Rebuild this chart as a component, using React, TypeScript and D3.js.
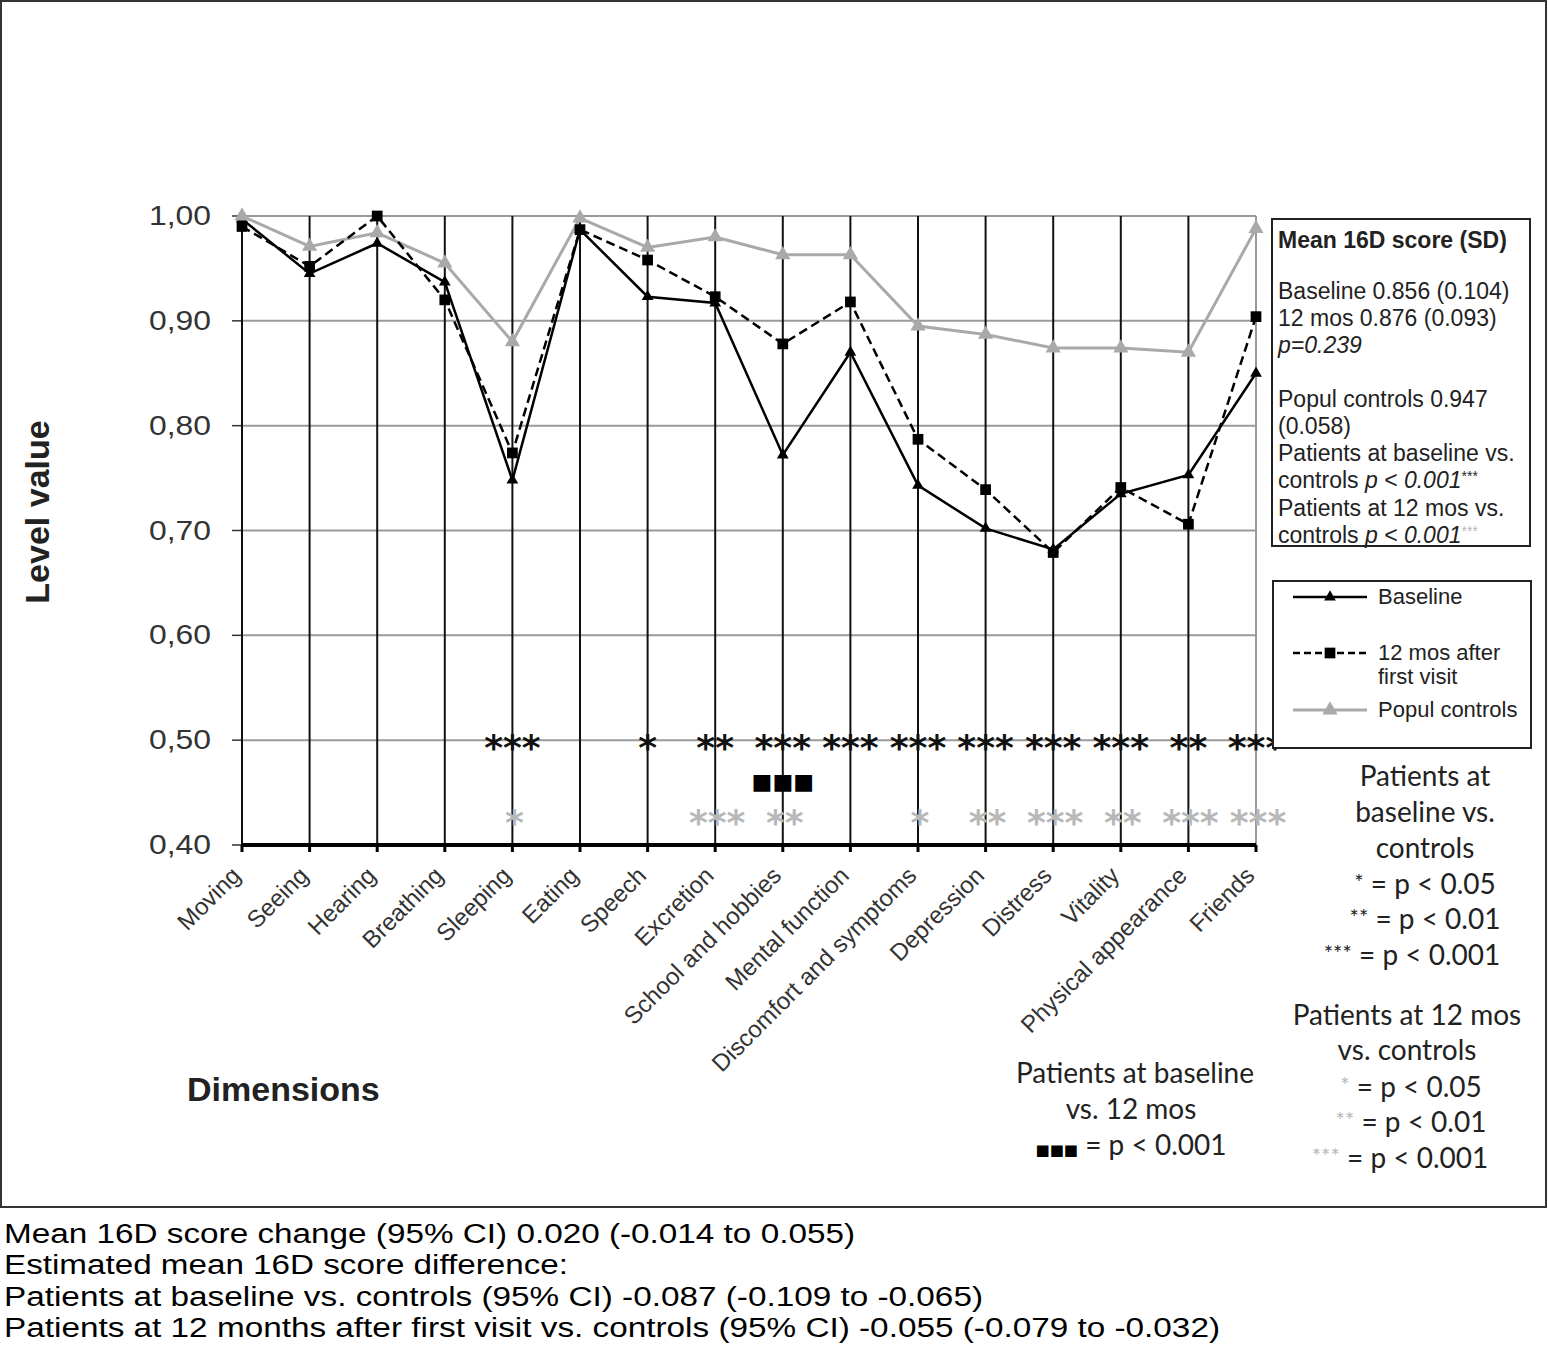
import React from "react";
import * as d3 from "d3";

const categories = [
  "Moving", "Seeing", "Hearing", "Breathing", "Sleeping", "Eating", "Speech", "Excretion",
  "School and hobbies", "Mental function", "Discomfort and symptoms", "Depression",
  "Distress", "Vitality", "Physical appearance", "Friends",
];
const baselineValues = [0.997, 0.945, 0.974, 0.937, 0.748, 0.987, 0.923, 0.917, 0.772, 0.870, 0.743, 0.702, 0.682, 0.735, 0.753, 0.850];
const months12Values = [0.990, 0.952, 1.000, 0.920, 0.774, 0.987, 0.958, 0.923, 0.878, 0.918, 0.787, 0.739, 0.679, 0.741, 0.706, 0.904];
const controlValues = [1.000, 0.971, 0.984, 0.955, 0.880, 0.998, 0.970, 0.980, 0.963, 0.963, 0.895, 0.887, 0.874, 0.874, 0.870, 0.988];
const yTicks = [0.4, 0.5, 0.6, 0.7, 0.8, 0.9, 1.0];
const sigBaseVsControls = ["", "", "", "", "***", "", "*", "**", "***", "***", "***", "***", "***", "***", "**", "***"];
const sig12VsControls = ["", "", "", "", "*", "", "", "***", "**", "", "*", "**", "***", "**", "***", "***"];
const sigBaseVs12 = ["", "", "", "", "", "", "", "", "■■■", "", "", "", "", "", "", ""];
const sigRowLevels = { baseVsControls: 0.5, baseVs12: 0.462, m12VsControls: 0.429 };

const footnotes = [
  "Mean 16D score change (95% CI) 0.020 (-0.014 to 0.055)",
  "Estimated mean 16D score difference:",
  "Patients at baseline vs. controls (95% CI) -0.087 (-0.109 to -0.065)",
  "Patients at 12 months after first visit vs. controls (95% CI) -0.055 (-0.079 to -0.032)",
];
const footnoteWidths = [851, 564, 979, 1216];

const W = 1548, H = 1366;
const AR = "'Liberation Sans', Arial, sans-serif";
const CAL = "Lato, 'Open Sans', sans-serif";
const DJ = "'DejaVu Sans', sans-serif";
const GRAY = "#a9a9a9";
const STARGRAY = "#b8b8b8";

export default function App() {
  const x = d3.scalePoint<string>().domain(categories).range([242, 1256]);
  const y = d3.scaleLinear().domain([0.4, 1.0]).range([845, 216]);
  const line = d3.line<number>().x((_, i) => x(categories[i])!).y((d) => y(d));
  const tri = d3.symbol(d3.symbolTriangle, 60)()!;
  const triBig = d3.symbol(d3.symbolTriangle, 100)()!;
  const sq = d3.symbol(d3.symbolSquare, 115)()!;
  const x0 = x(categories[0])!;
  const xN = x(categories[categories.length - 1])!;

  return (
    <div style={{ position: "absolute", left: 0, top: 0 }}>
      <svg width={W} height={H} style={{ display: "block", background: "#fff" }}>
        <rect x={1} y={1} width={1545} height={1206} fill="#fff" stroke="#333" strokeWidth={2} />

        {/* horizontal grid */}
        {yTicks.slice(1).map((t) => (
          <line key={"h" + t} x1={x0} x2={xN} y1={y(t)} y2={y(t)} stroke="#9a9a9a" strokeWidth={2} />
        ))}
        {yTicks.map((t) => (
          <line key={"yt" + t} x1={x0 - 10} x2={x0} y1={y(t)} y2={y(t)} stroke="#333" strokeWidth={1.5} />
        ))}
        {categories.map((c, i) => (
          <line key={"v" + c} x1={x(c)} x2={x(c)} y1={y(1.0)} y2={y(0.4)}
            stroke={i === categories.length - 1 ? "#9a9a9a" : "#111"} strokeWidth={2} />
        ))}
        <line x1={x0} x2={xN} y1={y(0.4)} y2={y(0.4)} stroke="#000" strokeWidth={4} />
        {categories.map((c) => (
          <line key={"xt" + c} x1={x(c)} x2={x(c)} y1={y(0.4)} y2={y(0.4) + 7} stroke="#000" strokeWidth={3} />
        ))}

        {yTicks.map((t) => (
          <text key={"yl" + t} x={211} y={y(t) + 9} textAnchor="end" fontFamily={AR} fontSize={27}
            fill="#333" textLength={62} lengthAdjust="spacingAndGlyphs">
            {t.toFixed(2).replace(".", ",")}
          </text>
        ))}
        <text transform="translate(49,512) rotate(-90)" textAnchor="middle" fontFamily={AR} fontWeight="bold"
          fontSize={34} fill="#222">Level value</text>

        {categories.map((c) => (
          <text key={"xl" + c} transform={`translate(${x(c)! - 6},${y(0.4) + 26}) rotate(-45)`} textAnchor="end"
            dominantBaseline="central" fontFamily={AR} fontSize={24} fill="#333">{c}</text>
        ))}
        <text x={187} y={1101} fontFamily={AR} fontWeight="bold" fontSize={34} fill="#222">Dimensions</text>

        {/* series */}
        <path d={line(controlValues)!} fill="none" stroke={GRAY} strokeWidth={3} />
        <path d={line(baselineValues)!} fill="none" stroke="#000" strokeWidth={2.5} />
        <path d={line(months12Values)!} fill="none" stroke="#000" strokeWidth={2.5} strokeDasharray="9,5" />
        {months12Values.map((v, i) => (
          <path key={"m" + i} d={sq} transform={`translate(${x(categories[i])},${y(v)})`} fill="#000" />
        ))}
        {baselineValues.map((v, i) => (
          <path key={"b" + i} d={tri} transform={`translate(${x(categories[i])},${y(v)})`} fill="#000" />
        ))}
        {controlValues.map((v, i) => (
          <path key={"c" + i} d={triBig} transform={`translate(${x(categories[i])},${y(v)})`} fill={GRAY} />
        ))}

        {/* significance rows */}
        {sigBaseVsControls.map((s, i) => s ? (
          <text key={"sb" + i} x={x(categories[i])} y={y(sigRowLevels.baseVsControls) + 20} textAnchor="middle"
            fontFamily={DJ} fontWeight="bold" fontSize={36} fill="#111">{s}</text>
        ) : null)}
        {sig12VsControls.map((s, i) => s ? (
          <text key={"s12" + i} x={x(categories[i])! + 2} y={y(sigRowLevels.m12VsControls) + 20} textAnchor="middle"
            fontFamily={DJ} fontWeight="bold" fontSize={36} fill={STARGRAY}>{s}</text>
        ) : null)}
        {sigBaseVs12.map((s, i) => s ? (
          <text key={"sq" + i} x={x(categories[i])} y={y(sigRowLevels.baseVs12) + 9} textAnchor="middle"
            fontFamily={DJ} fontSize={22} fill="#000">{s}</text>
        ) : null)}

        {/* info box */}
        <rect x={1272} y={219} width={258} height={327} fill="#fff" stroke="#222" strokeWidth={2} />
        <g fontFamily={AR} fontSize={23} fill="#222">
          <text x={1278} y={248} fontWeight="bold" fontSize={23}>Mean 16D score (SD)</text>
          <text x={1278} y={299}>Baseline 0.856 (0.104)</text>
          <text x={1278} y={326}>12 mos 0.876 (0.093)</text>
          <text x={1278} y={353} fontStyle="italic">p=0.239</text>
          <text x={1278} y={407}>Popul controls 0.947</text>
          <text x={1278} y={434}>(0.058)</text>
          <text x={1278} y={461}>Patients at baseline vs.</text>
          <text x={1278} y={488}>controls <tspan fontStyle="italic">p &lt; 0.001</tspan><tspan fontSize={14} dy={-7}>***</tspan></text>
          <text x={1278} y={516}>Patients at 12 mos vs.</text>
          <text x={1278} y={543}>controls <tspan fontStyle="italic">p &lt; 0.001</tspan><tspan fontSize={14} dy={-7} fill={STARGRAY}>***</tspan></text>
        </g>

        {/* legend box */}
        <rect x={1273} y={581} width={258} height={167} fill="#fff" stroke="#222" strokeWidth={2} />
        <line x1={1293} x2={1367} y1={597} y2={597} stroke="#000" strokeWidth={2.5} />
        <path d={tri} transform="translate(1330,597)" fill="#000" />
        <line x1={1293} x2={1367} y1={653} y2={653} stroke="#000" strokeWidth={2.5} strokeDasharray="7,4" />
        <path d={sq} transform="translate(1330,653)" fill="#000" />
        <line x1={1293} x2={1367} y1={710} y2={710} stroke={GRAY} strokeWidth={3} />
        <path d={triBig} transform="translate(1330,710)" fill={GRAY} />
        <g fontFamily={AR} fontSize={22} fill="#222">
          <text x={1378} y={604}>Baseline</text>
          <text x={1378} y={660}>12 mos after</text>
          <text x={1378} y={684}>first visit</text>
          <text x={1378} y={717}>Popul controls</text>
        </g>

        {/* significance keys */}
        <g fontFamily={CAL} fontSize={28} fill="#222" textAnchor="middle">
          <text x={1425} y={786}>Patients at</text>
          <text x={1425} y={822}>baseline vs.</text>
          <text x={1425} y={858}>controls</text>
          <text x={1425} y={894}><tspan fontSize={22} dy={-4}>*</tspan><tspan dy={4}> = p &lt; 0.05</tspan></text>
          <text x={1425} y={929}><tspan fontSize={22} dy={-4}>**</tspan><tspan dy={4}> = p &lt; 0.01</tspan></text>
          <text x={1412} y={965}><tspan fontSize={22} dy={-4}>***</tspan><tspan dy={4}> = p &lt; 0.001</tspan></text>
          <text x={1407} y={1025}>Patients at 12 mos</text>
          <text x={1407} y={1060}>vs. controls</text>
          <text x={1411} y={1097}><tspan fontSize={22} dy={-4} fill={STARGRAY}>*</tspan><tspan dy={4}> = p &lt; 0.05</tspan></text>
          <text x={1411} y={1132}><tspan fontSize={22} dy={-4} fill={STARGRAY}>**</tspan><tspan dy={4}> = p &lt; 0.01</tspan></text>
          <text x={1400} y={1168}><tspan fontSize={22} dy={-4} fill={STARGRAY}>***</tspan><tspan dy={4}> = p &lt; 0.001</tspan></text>
          <text x={1135} y={1083}>Patients at baseline</text>
          <text x={1131} y={1119}>vs. 12 mos</text>
          <text x={1131} y={1155}><tspan fontFamily={DJ} fontSize={15} fill="#000">■■■</tspan> = p &lt; 0.001</text>
        </g>

        {/* footnotes */}
        {footnotes.map((f, i) => (
          <text key={"f" + i} x={4} y={1243 + i * 31.3} fontFamily={AR} fontSize={27} fill="#000"
            textLength={footnoteWidths[i]} lengthAdjust="spacingAndGlyphs">{f}</text>
        ))}
      </svg>
    </div>
  );
}
